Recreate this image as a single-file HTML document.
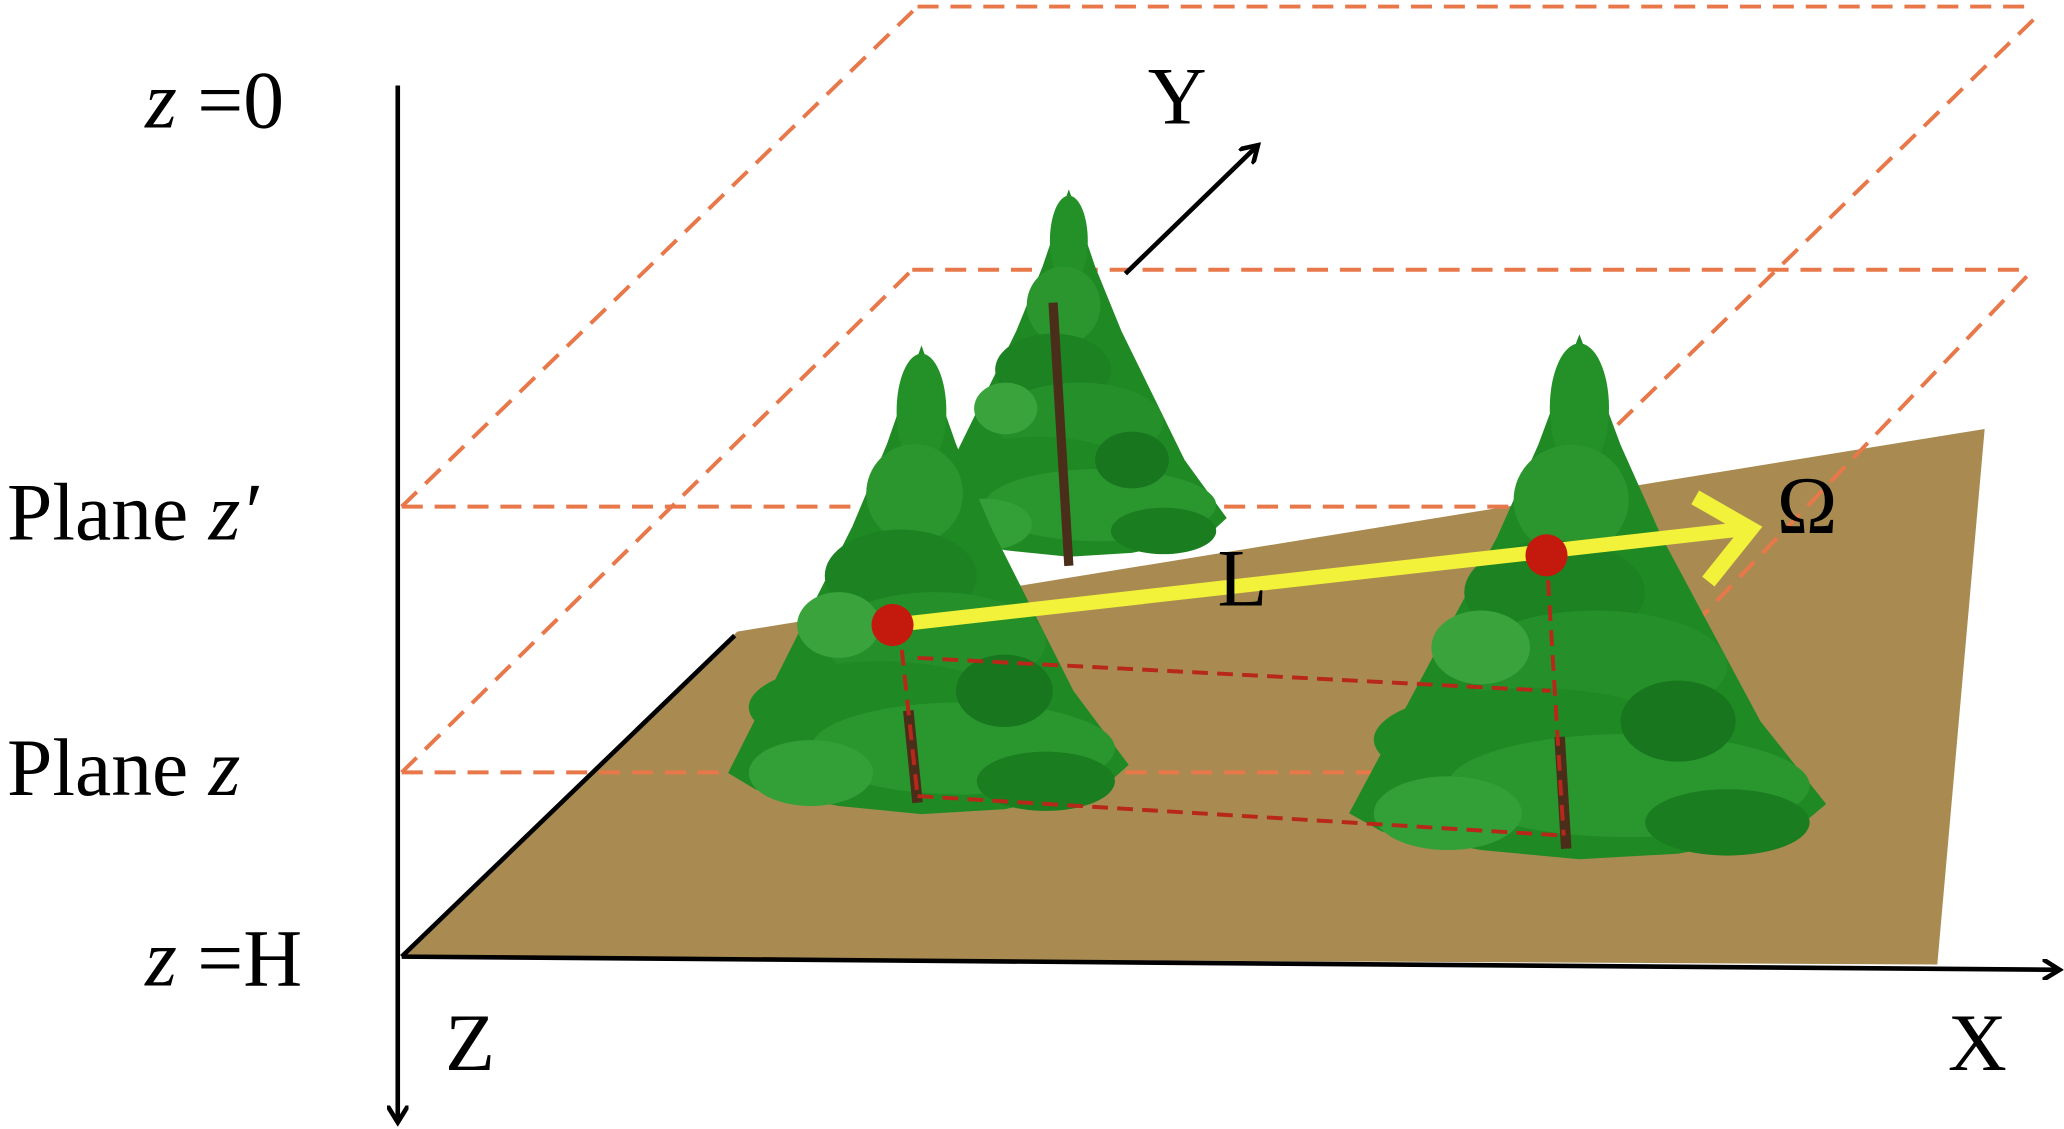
<!DOCTYPE html>
<html><head><meta charset="utf-8"><style>
html,body{margin:0;padding:0;background:#fff;width:2064px;height:1129px;overflow:hidden}
svg{display:block}
text{font-family:"Liberation Serif",serif;fill:#000}
</style></head><body>
<svg width="2064" height="1129" viewBox="0 0 1568 858" xmlns="http://www.w3.org/2000/svg">
<defs>
<marker id="ah" markerWidth="16" markerHeight="16" refX="12" refY="8" orient="auto" markerUnits="userSpaceOnUse">
<path d="M0,0 L13,8 L0,16" fill="none" stroke="#000" stroke-width="3.5"/></marker>
<g id="foliage">
<polygon points="0,-190 -25,-130 -50,-80 -80,-30 -110,20 -140,70 -120,80 -60,90 0,95 60,92 130,80 150,65 110,20 80,-30 50,-80 25,-130" fill="#1f8a24"/>
<ellipse cx="0" cy="-150" rx="18" ry="35" fill="#239128"/>
<ellipse cx="-5" cy="-100" rx="35" ry="30" fill="#2a962d"/>
<ellipse cx="-15" cy="-50" rx="55" ry="28" fill="#1c8222"/>
<ellipse cx="10" cy="-10" rx="80" ry="30" fill="#25902a"/>
<ellipse cx="-30" cy="30" rx="95" ry="28" fill="#1f8a24"/>
<ellipse cx="30" cy="55" rx="110" ry="28" fill="#2a972e"/>
<ellipse cx="-60" cy="-20" rx="30" ry="20" fill="#3aa33c"/>
<ellipse cx="60" cy="20" rx="35" ry="22" fill="#17761e"/>
<ellipse cx="-80" cy="70" rx="45" ry="20" fill="#32a036"/>
<ellipse cx="90" cy="75" rx="50" ry="18" fill="#1a7d20"/>
</g>
</defs>
<polygon points="305,727 560,480 1508,326 1472,733" fill="#a98b52"/>
<line x1="305" y1="727" x2="558" y2="483" stroke="#000" stroke-width="3.5"/>
<g stroke="#e8784a" stroke-width="3" stroke-dasharray="16,9" fill="none">
<line x1="697" y1="5" x2="1545" y2="5"/>
<line x1="305" y1="385" x2="697" y2="5"/>
<line x1="305" y1="385" x2="1165" y2="385"/>
<line x1="1545" y1="15" x2="1160" y2="390"/>
<line x1="693" y1="205" x2="1540" y2="205"/>
<line x1="305" y1="587" x2="693" y2="205"/>
<line x1="305" y1="587" x2="1180" y2="587"/>
<line x1="1540" y1="210" x2="1180" y2="587"/>
</g>
<!-- back tree -->
<g transform="translate(812,330) scale(0.8,0.98)"><use href="#foliage"/></g>
<line x1="800" y1="230" x2="812" y2="430" stroke="#4a2e1a" stroke-width="7"/>
<!-- left tree -->
<g transform="translate(700,500) scale(1.05,1.25)"><use href="#foliage"/></g>
<!-- right tree -->
<g transform="translate(1200,520) scale(1.25,1.4)"><use href="#foliage"/></g>
<line x1="1185" y1="560" x2="1190" y2="645" stroke="#4a2e1a" stroke-width="8"/>
<line x1="690" y1="540" x2="697" y2="610" stroke="#4a2e1a" stroke-width="8"/>
<g stroke="#b8281a" stroke-width="3" stroke-dasharray="12,7" fill="none">
<line x1="683" y1="475" x2="697" y2="605"/>
<line x1="1175" y1="422" x2="1188" y2="635"/>
<line x1="697" y1="605" x2="1188" y2="635"/>
<line x1="697" y1="500" x2="1178" y2="525"/>
</g>
<line x1="302" y1="65" x2="302" y2="852" stroke="#000" stroke-width="3.5" marker-end="url(#ah)"/>
<line x1="305" y1="727" x2="1564" y2="737" stroke="#000" stroke-width="3.5" marker-end="url(#ah)"/>
<line x1="855" y1="208" x2="955" y2="111" stroke="#000" stroke-width="3.5" marker-end="url(#ah)"/>
<line x1="678" y1="475" x2="1325" y2="402" stroke="#f2f23a" stroke-width="11"/>
<polyline points="1288,378 1330,402 1298,442" fill="none" stroke="#f2f23a" stroke-width="12"/>
<circle cx="678" cy="475" r="16" fill="#c41a0e"/>
<circle cx="1175" cy="422" r="16" fill="#c41a0e"/>
<g font-size="62">
<text x="110" y="97"><tspan font-style="italic">z</tspan> =0</text>
<text x="872" y="94">Y</text>
<text x="5" y="410">Plane <tspan font-style="italic">z′</tspan></text>
<text x="5" y="604">Plane <tspan font-style="italic">z</tspan></text>
<text x="110" y="749"><tspan font-style="italic">z</tspan> =H</text>
<text x="338" y="813">Z</text>
<text x="1480" y="813">X</text>
<text x="925" y="460">L</text>
<text x="1350" y="405">Ω</text>
</g>
</svg>
</body></html>
